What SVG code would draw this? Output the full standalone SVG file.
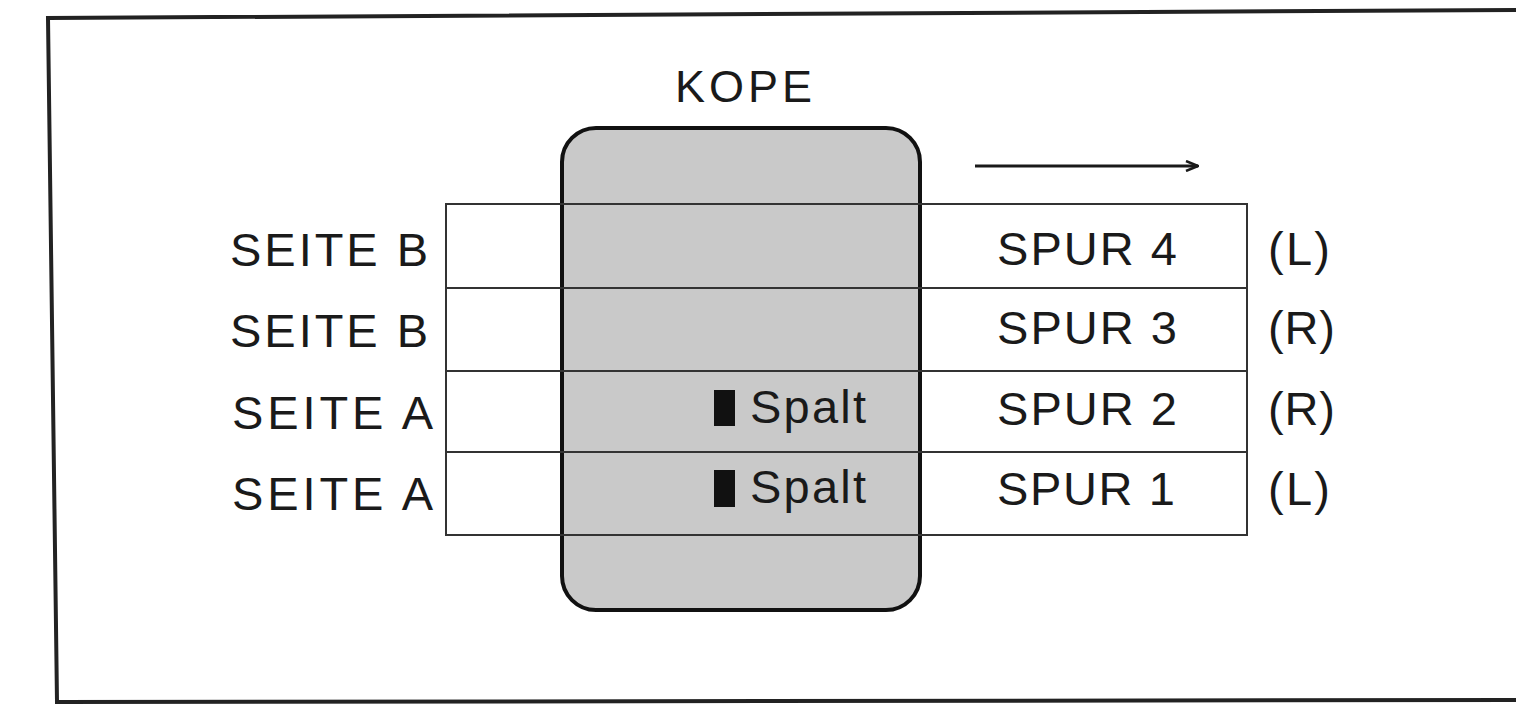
<svg xmlns="http://www.w3.org/2000/svg" width="1516" height="705" viewBox="0 0 1516 705">
<defs>
<style>
.t{font-family:"Liberation Sans",Arial,sans-serif;font-size:47px;fill:#1a1a1a}
.tape{fill:none;stroke:#333;stroke-width:2}
</style>
<marker id="ah" markerWidth="14" markerHeight="12" refX="13" refY="6" orient="auto" markerUnits="userSpaceOnUse">
<path d="M1,1 L13,6 L1,11" fill="none" stroke="#1a1a1a" stroke-width="2.5"/>
</marker>
</defs>
<rect width="1516" height="705" fill="#fff"/>
<path d="M1516,10 L48,18 L57,702 L1516,700" fill="none" stroke="#222" stroke-width="4"/>
<g id="head">
<rect x="562" y="128" width="358" height="482" rx="34" fill="#c9c9c9" stroke="#111" stroke-width="4"/>
<text class="t" x="675" y="102" textLength="137" lengthAdjust="spacing" style="font-size:45px">KOPE</text>
</g>
<g id="tape">
<rect class="tape" x="446" y="204" width="801" height="331"/>
<line class="tape" x1="446" y1="288" x2="1247" y2="288"/>
<line class="tape" x1="446" y1="371" x2="1247" y2="371"/>
<line class="tape" x1="446" y1="452" x2="1247" y2="452"/>
</g>
<g id="labels-left">
<text class="t" x="230" y="266" textLength="198" lengthAdjust="spacing">SEITE B</text>
<text class="t" x="230" y="347" textLength="198" lengthAdjust="spacing">SEITE B</text>
<text class="t" x="232" y="429" textLength="201" lengthAdjust="spacing">SEITE A</text>
<text class="t" x="232" y="510" textLength="201" lengthAdjust="spacing">SEITE A</text>
</g>
<g id="spalt1">
<rect x="714" y="390" width="21" height="36" fill="#111"/>
<text class="t" x="750" y="423" textLength="116" lengthAdjust="spacing">Spalt</text>
</g>
<g id="spalt2">
<rect x="714" y="470" width="21" height="37" fill="#111"/>
<text class="t" x="750" y="503" textLength="116" lengthAdjust="spacing">Spalt</text>
</g>
<g id="labels-right">
<text class="t" x="997" y="265" textLength="180" lengthAdjust="spacing">SPUR 4</text>
<text class="t" x="997" y="344" textLength="180" lengthAdjust="spacing">SPUR 3</text>
<text class="t" x="997" y="425" textLength="180" lengthAdjust="spacing">SPUR 2</text>
<text class="t" x="997" y="505" textLength="178" lengthAdjust="spacing">SPUR 1</text>
<text class="t" x="1268" y="265" textLength="62" lengthAdjust="spacing">(L)</text>
<text class="t" x="1268" y="344" textLength="67" lengthAdjust="spacing">(R)</text>
<text class="t" x="1268" y="425" textLength="67" lengthAdjust="spacing">(R)</text>
<text class="t" x="1268" y="505" textLength="62" lengthAdjust="spacing">(L)</text>
</g>
<g id="connectors">
<line x1="975" y1="166" x2="1198" y2="166" stroke="#1a1a1a" stroke-width="3" marker-end="url(#ah)"/>
</g>
</svg>
